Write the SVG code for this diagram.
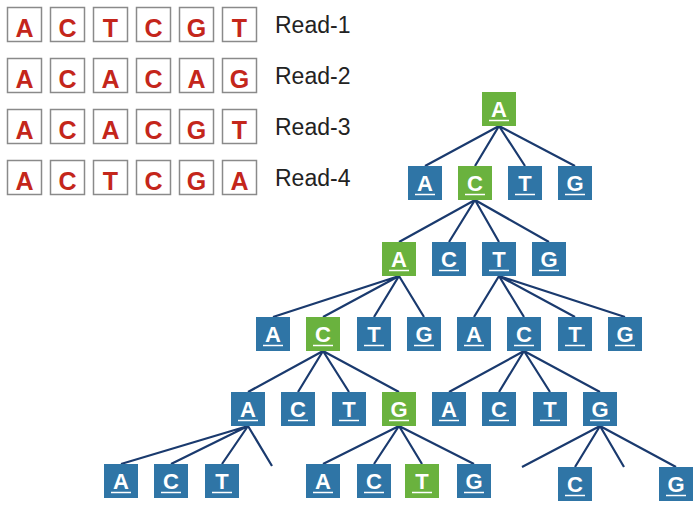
<svg xmlns="http://www.w3.org/2000/svg" width="700" height="511" viewBox="0 0 700 511">
<defs>
<style>
.rb{fill:#fff;stroke:#8a8a8a;stroke-width:1.5}
.rl{font-family:"Liberation Sans",Arial,sans-serif;font-weight:bold;font-size:25px;fill:#c4261b;text-anchor:middle}
.lab{font-family:"Liberation Sans",Arial,sans-serif;font-size:23px;fill:#222}
.b{fill:#2f75a6}
.g{fill:#6ab23e}
.nl{font-family:"Liberation Sans",Arial,sans-serif;font-weight:bold;font-size:22px;fill:#fff;text-anchor:middle}
.ul{stroke:#fff;stroke-width:1.5}
.e{stroke:#1a3a6e;stroke-width:2.2;fill:none}
</style>
</defs>
<rect width="700" height="511" fill="#fff"/>
<g id="reads">
<g id="read1">
<rect class="rb" x="7.5" y="7.5" width="34" height="34"/><text class="rl" x="24.5" y="36.5">A</text>
<rect class="rb" x="50.5" y="7.5" width="34" height="34"/><text class="rl" x="67.5" y="36.5">C</text>
<rect class="rb" x="93.5" y="7.5" width="34" height="34"/><text class="rl" x="110.5" y="36.5">T</text>
<rect class="rb" x="136.5" y="7.5" width="34" height="34"/><text class="rl" x="153.5" y="36.5">C</text>
<rect class="rb" x="179.5" y="7.5" width="34" height="34"/><text class="rl" x="196.5" y="36.5">G</text>
<rect class="rb" x="222.5" y="7.5" width="34" height="34"/><text class="rl" x="239.5" y="36.5">T</text>
<text class="lab" x="275" y="33">Read-1</text>
</g>
<g id="read2">
<rect class="rb" x="7.5" y="58.5" width="34" height="34"/><text class="rl" x="24.5" y="87.5">A</text>
<rect class="rb" x="50.5" y="58.5" width="34" height="34"/><text class="rl" x="67.5" y="87.5">C</text>
<rect class="rb" x="93.5" y="58.5" width="34" height="34"/><text class="rl" x="110.5" y="87.5">A</text>
<rect class="rb" x="136.5" y="58.5" width="34" height="34"/><text class="rl" x="153.5" y="87.5">C</text>
<rect class="rb" x="179.5" y="58.5" width="34" height="34"/><text class="rl" x="196.5" y="87.5">A</text>
<rect class="rb" x="222.5" y="58.5" width="34" height="34"/><text class="rl" x="239.5" y="87.5">G</text>
<text class="lab" x="275" y="84">Read-2</text>
</g>
<g id="read3">
<rect class="rb" x="7.5" y="109.5" width="34" height="34"/><text class="rl" x="24.5" y="138.5">A</text>
<rect class="rb" x="50.5" y="109.5" width="34" height="34"/><text class="rl" x="67.5" y="138.5">C</text>
<rect class="rb" x="93.5" y="109.5" width="34" height="34"/><text class="rl" x="110.5" y="138.5">A</text>
<rect class="rb" x="136.5" y="109.5" width="34" height="34"/><text class="rl" x="153.5" y="138.5">C</text>
<rect class="rb" x="179.5" y="109.5" width="34" height="34"/><text class="rl" x="196.5" y="138.5">G</text>
<rect class="rb" x="222.5" y="109.5" width="34" height="34"/><text class="rl" x="239.5" y="138.5">T</text>
<text class="lab" x="275" y="135">Read-3</text>
</g>
<g id="read4">
<rect class="rb" x="7.5" y="160.5" width="34" height="34"/><text class="rl" x="24.5" y="189.5">A</text>
<rect class="rb" x="50.5" y="160.5" width="34" height="34"/><text class="rl" x="67.5" y="189.5">C</text>
<rect class="rb" x="93.5" y="160.5" width="34" height="34"/><text class="rl" x="110.5" y="189.5">T</text>
<rect class="rb" x="136.5" y="160.5" width="34" height="34"/><text class="rl" x="153.5" y="189.5">C</text>
<rect class="rb" x="179.5" y="160.5" width="34" height="34"/><text class="rl" x="196.5" y="189.5">G</text>
<rect class="rb" x="222.5" y="160.5" width="34" height="34"/><text class="rl" x="239.5" y="189.5">A</text>
<text class="lab" x="275" y="186">Read-4</text>
</g>
</g>
<g id="connectors">
<path class="e" d="M499,126 L425,166 M499,126 L475,166 M499,126 L525,166 M499,126 L575,166"/>
<path class="e" d="M475,200 L399,242 M475,200 L449,242 M475,200 L499,242 M475,200 L549,242"/>
<path class="e" d="M399,276 L273,317 M399,276 L323,317 M399,276 L374,317 M399,276 L424,317"/>
<path class="e" d="M499,276 L474,317 M499,276 L524,317 M499,276 L575,317 M499,276 L625,317"/>
<path class="e" d="M323,351 L248,392 M323,351 L298,392 M323,351 L349,392 M323,351 L399,392"/>
<path class="e" d="M524,351 L449,392 M524,351 L499,392 M524,351 L550,392 M524,351 L600,392"/>
<path class="e" d="M248,426 L121,464 M248,426 L171,464 M248,426 L222,464 M248,426 L272,466"/>
<path class="e" d="M399,426 L323,464 M399,426 L374,464 M399,426 L422,464 M399,426 L474,464"/>
<path class="e" d="M600,426 L522,467 M600,426 L575,467 M600,426 L624,467 M600,426 L676,467"/>
</g>
<g id="n0"><rect class="g" x="482" y="92" width="34" height="34"/><text class="nl" x="499" y="117">A</text><line class="ul" x1="489" y1="120.5" x2="509" y2="120.5"/></g>
<g id="n1a"><rect class="b" x="408" y="166" width="34" height="34"/><text class="nl" x="425" y="191">A</text><line class="ul" x1="415" y1="194.5" x2="435" y2="194.5"/></g>
<g id="n1c"><rect class="g" x="458" y="166" width="34" height="34"/><text class="nl" x="475" y="191">C</text><line class="ul" x1="465" y1="194.5" x2="485" y2="194.5"/></g>
<g id="n1t"><rect class="b" x="508" y="166" width="34" height="34"/><text class="nl" x="525" y="191">T</text><line class="ul" x1="515" y1="194.5" x2="535" y2="194.5"/></g>
<g id="n1g"><rect class="b" x="558" y="166" width="34" height="34"/><text class="nl" x="575" y="191">G</text><line class="ul" x1="565" y1="194.5" x2="585" y2="194.5"/></g>
<g id="n2a"><rect class="g" x="382" y="242" width="34" height="34"/><text class="nl" x="399" y="267">A</text><line class="ul" x1="389" y1="270.5" x2="409" y2="270.5"/></g>
<g id="n2c"><rect class="b" x="432" y="242" width="34" height="34"/><text class="nl" x="449" y="267">C</text><line class="ul" x1="439" y1="270.5" x2="459" y2="270.5"/></g>
<g id="n2t"><rect class="b" x="482" y="242" width="34" height="34"/><text class="nl" x="499" y="267">T</text><line class="ul" x1="489" y1="270.5" x2="509" y2="270.5"/></g>
<g id="n2g"><rect class="b" x="532" y="242" width="34" height="34"/><text class="nl" x="549" y="267">G</text><line class="ul" x1="539" y1="270.5" x2="559" y2="270.5"/></g>
<g id="n3a1"><rect class="b" x="256" y="317" width="34" height="34"/><text class="nl" x="273" y="342">A</text><line class="ul" x1="263" y1="345.5" x2="283" y2="345.5"/></g>
<g id="n3c1"><rect class="g" x="306" y="317" width="34" height="34"/><text class="nl" x="323" y="342">C</text><line class="ul" x1="313" y1="345.5" x2="333" y2="345.5"/></g>
<g id="n3t1"><rect class="b" x="357" y="317" width="34" height="34"/><text class="nl" x="374" y="342">T</text><line class="ul" x1="364" y1="345.5" x2="384" y2="345.5"/></g>
<g id="n3g1"><rect class="b" x="407" y="317" width="34" height="34"/><text class="nl" x="424" y="342">G</text><line class="ul" x1="414" y1="345.5" x2="434" y2="345.5"/></g>
<g id="n3a2"><rect class="b" x="457" y="317" width="34" height="34"/><text class="nl" x="474" y="342">A</text><line class="ul" x1="464" y1="345.5" x2="484" y2="345.5"/></g>
<g id="n3c2"><rect class="b" x="507" y="317" width="34" height="34"/><text class="nl" x="524" y="342">C</text><line class="ul" x1="514" y1="345.5" x2="534" y2="345.5"/></g>
<g id="n3t2"><rect class="b" x="558" y="317" width="34" height="34"/><text class="nl" x="575" y="342">T</text><line class="ul" x1="565" y1="345.5" x2="585" y2="345.5"/></g>
<g id="n3g2"><rect class="b" x="608" y="317" width="34" height="34"/><text class="nl" x="625" y="342">G</text><line class="ul" x1="615" y1="345.5" x2="635" y2="345.5"/></g>
<g id="n4a1"><rect class="b" x="231" y="392" width="34" height="34"/><text class="nl" x="248" y="417">A</text><line class="ul" x1="238" y1="420.5" x2="258" y2="420.5"/></g>
<g id="n4c1"><rect class="b" x="281" y="392" width="34" height="34"/><text class="nl" x="298" y="417">C</text><line class="ul" x1="288" y1="420.5" x2="308" y2="420.5"/></g>
<g id="n4t1"><rect class="b" x="332" y="392" width="34" height="34"/><text class="nl" x="349" y="417">T</text><line class="ul" x1="339" y1="420.5" x2="359" y2="420.5"/></g>
<g id="n4g1"><rect class="g" x="382" y="392" width="34" height="34"/><text class="nl" x="399" y="417">G</text><line class="ul" x1="389" y1="420.5" x2="409" y2="420.5"/></g>
<g id="n4a2"><rect class="b" x="432" y="392" width="34" height="34"/><text class="nl" x="449" y="417">A</text><line class="ul" x1="439" y1="420.5" x2="459" y2="420.5"/></g>
<g id="n4c2"><rect class="b" x="482" y="392" width="34" height="34"/><text class="nl" x="499" y="417">C</text><line class="ul" x1="489" y1="420.5" x2="509" y2="420.5"/></g>
<g id="n4t2"><rect class="b" x="533" y="392" width="34" height="34"/><text class="nl" x="550" y="417">T</text><line class="ul" x1="540" y1="420.5" x2="560" y2="420.5"/></g>
<g id="n4g2"><rect class="b" x="583" y="392" width="34" height="34"/><text class="nl" x="600" y="417">G</text><line class="ul" x1="590" y1="420.5" x2="610" y2="420.5"/></g>
<g id="n5a1"><rect class="b" x="104" y="464" width="34" height="34"/><text class="nl" x="121" y="489">A</text><line class="ul" x1="111" y1="492.5" x2="131" y2="492.5"/></g>
<g id="n5c1"><rect class="b" x="154" y="464" width="34" height="34"/><text class="nl" x="171" y="489">C</text><line class="ul" x1="161" y1="492.5" x2="181" y2="492.5"/></g>
<g id="n5t1"><rect class="b" x="205" y="464" width="34" height="34"/><text class="nl" x="222" y="489">T</text><line class="ul" x1="212" y1="492.5" x2="232" y2="492.5"/></g>
<g id="n5a2"><rect class="b" x="306" y="464" width="34" height="34"/><text class="nl" x="323" y="489">A</text><line class="ul" x1="313" y1="492.5" x2="333" y2="492.5"/></g>
<g id="n5c2"><rect class="b" x="357" y="464" width="34" height="34"/><text class="nl" x="374" y="489">C</text><line class="ul" x1="364" y1="492.5" x2="384" y2="492.5"/></g>
<g id="n5t2"><rect class="g" x="405" y="464" width="34" height="34"/><text class="nl" x="422" y="489">T</text><line class="ul" x1="412" y1="492.5" x2="432" y2="492.5"/></g>
<g id="n5g2"><rect class="b" x="457" y="464" width="34" height="34"/><text class="nl" x="474" y="489">G</text><line class="ul" x1="464" y1="492.5" x2="484" y2="492.5"/></g>
<g id="n5c3"><rect class="b" x="558" y="467" width="34" height="34"/><text class="nl" x="575" y="492">C</text><line class="ul" x1="565" y1="495.5" x2="585" y2="495.5"/></g>
<g id="n5g3"><rect class="b" x="659" y="467" width="34" height="34"/><text class="nl" x="676" y="492">G</text><line class="ul" x1="666" y1="495.5" x2="686" y2="495.5"/></g>
</svg>
